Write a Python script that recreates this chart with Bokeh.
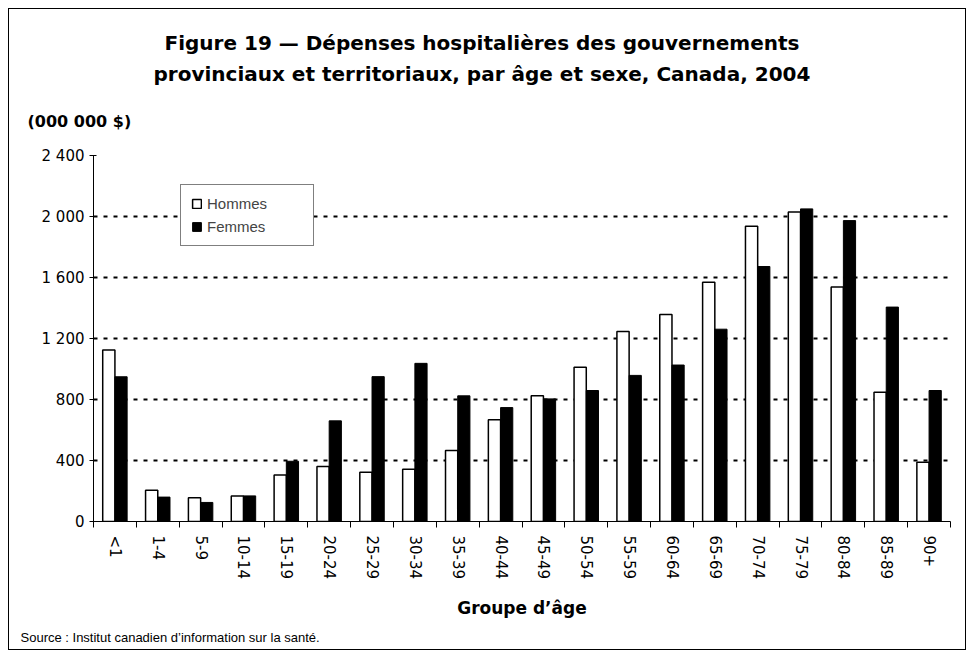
import numpy as np
from bokeh.plotting import figure
from bokeh.models import (Range1d, FixedTicker, Legend, LegendItem,
                          ColumnDataSource, Title)
from bokeh.transform import dodge
from bokeh.embed import file_html
from bokeh.resources import INLINE

# ---------------- data ----------------
age_groups = ["<1", "1-4", "5-9", "10-14", "15-19", "20-24", "25-29", "30-34",
              "35-39", "40-44", "45-49", "50-54", "55-59", "60-64", "65-69",
              "70-74", "75-79", "80-84", "85-89", "90+"]
hommes = [1125, 205, 155, 168, 305, 360, 323, 343, 466, 668, 824, 1011, 1246,
          1358, 1569, 1936, 2029, 1538, 848, 389]
femmes = [949, 160, 125, 168, 395, 660, 950, 1037, 824, 747, 804, 859, 958,
          1026, 1261, 1672, 2050, 1973, 1406, 859]
y_ticks = [0, 400, 800, 1200, 1600, 2000, 2400]
y_tick_labels = ["0", "400", "800", "1 200", "1 600", "2 000", "2 400"]

title_1 = "Figure 19 \u2014 Dépenses hospitalières des gouvernements"
title_2 = "provinciaux et territoriaux, par âge et sexe, Canada, 2004"
unit_text = "(000 000 $)"
x_title = "Groupe d\u2019âge"
source_text = "Source : Institut canadien d\u2019information sur la santé."

# ---------------- layout ----------------
FL, FR, FT, FB = 93, 948, 155, 519    # frame edges on page
CL, CT = 9, 9                          # canvas origin on page
W, H = 958, 642

n = len(age_groups)
idx = list(range(n))
src = ColumnDataSource(dict(x=idx, hommes=hommes, femmes=femmes))

p = figure(width=W, height=H, output_backend="svg", toolbar_location=None,
           x_range=Range1d(-0.5, n - 0.5), y_range=Range1d(0, 2400),
           min_border_left=FL - CL, min_border_right=(CL + W - 2) - FR,
           min_border_top=FT - CT, min_border_bottom=(CT + H - 2) - FB)
p.styles = {"border": "1px solid black", "margin": "8px"}
p.outline_line_color = None
p.background_fill_color = "white"
p.border_fill_color = "white"

bw = 0.285
rh = p.vbar(x=dodge("x", -bw / 2, range=p.x_range), top="hommes", width=bw,
            bottom=0, source=src, fill_color="white", line_color="black",
            line_width=1.5)
rf = p.vbar(x=dodge("x", bw / 2, range=p.x_range), top="femmes", width=bw,
            bottom=0, source=src, fill_color="black", line_color="black",
            line_width=1)

# x axis
xt = FixedTicker(ticks=idx, minor_ticks=[i - 0.5 for i in range(n + 1)])
p.xaxis.ticker = xt
p.xaxis.major_label_overrides = {i: lab for i, lab in enumerate(age_groups)}
p.xaxis.major_label_orientation = "vertical"
p.xaxis.major_tick_line_color = None
p.xaxis.major_tick_out = 0
p.xaxis.major_tick_in = 0
p.xaxis.minor_tick_line_color = "black"
p.xaxis.minor_tick_out = 6
p.xaxis.minor_tick_in = 0
p.xaxis.axis_line_color = "black"
p.xaxis.major_label_standoff = 8
p.xaxis.major_label_text_font = "DejaVu Sans"
p.xaxis.major_label_text_font_size = "15px"
p.xaxis.major_label_text_color = "black"
p.xaxis.axis_label = x_title
p.xaxis.axis_label_text_font = "DejaVu Sans"
p.xaxis.axis_label_text_font_size = "17px"
p.xaxis.axis_label_text_font_style = "bold"
p.xaxis.axis_label_text_color = "black"
p.xaxis.axis_label_standoff = 16

# y axis
p.yaxis.ticker = FixedTicker(ticks=y_ticks, minor_ticks=[])
p.yaxis.major_label_overrides = {v: lab for v, lab in zip(y_ticks, y_tick_labels)}
p.yaxis.major_tick_out = 4
p.yaxis.major_tick_in = 3
p.yaxis.major_tick_line_color = "black"
p.yaxis.minor_tick_line_color = None
p.yaxis.axis_line_color = "black"
p.yaxis.major_label_standoff = 5
p.yaxis.major_label_text_font = "DejaVu Sans"
p.yaxis.major_label_text_font_size = "15px"
p.yaxis.major_label_text_color = "black"

# grid
p.xgrid.grid_line_color = None
p.ygrid.ticker = FixedTicker(ticks=y_ticks[1:])
p.ygrid.grid_line_color = "black"
p.ygrid.grid_line_width = 2
p.ygrid.grid_line_dash = "4 6"

# legend
legend = Legend(items=[LegendItem(label="Hommes", renderers=[rh]),
                       LegendItem(label="Femmes", renderers=[rf])],
                location=(87, (FB - FT) - 28 - 61),
                border_line_color="black", border_line_width=1,
                background_fill_color="white", background_fill_alpha=1,
                label_text_font="Liberation Sans", label_text_font_size="15px",
                glyph_width=11, glyph_height=11, label_height=17,
                label_width=96, label_standoff=5, spacing=6, padding=10,
                margin=0)
p.add_layout(legend)

# titles above the frame (first added = closest to the frame)
p.add_layout(Title(text=unit_text, align="left", offset=27 - FL,
                   text_font="DejaVu Sans", text_font_size="16px",
                   text_font_style="bold", text_color="black", standoff=49),
             "above")
p.add_layout(Title(text=title_2, align="left", offset=60,
                   text_font="DejaVu Sans", text_font_size="20px",
                   text_font_style="bold", text_color="black", standoff=0),
             "above")
p.add_layout(Title(text=title_1, align="left", offset=71,
                   text_font="DejaVu Sans", text_font_size="20px",
                   text_font_style="bold", text_color="black", standoff=9),
             "above")

# source below
p.add_layout(Title(text=source_text, align="left", offset=20 - FL,
                   text_font="Liberation Sans", text_font_size="13px",
                   text_font_style="normal", text_color="black", standoff=12),
             "below")

open("out.html", "w").write(file_html(p, INLINE))
